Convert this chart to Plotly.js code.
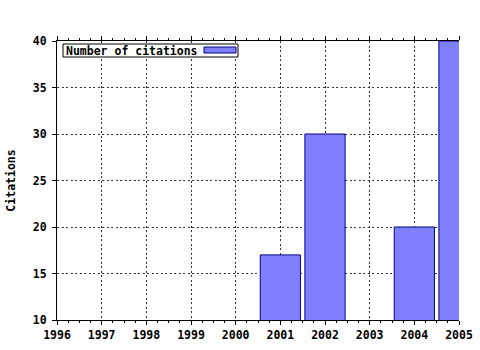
<!DOCTYPE html>
<html>
<head>
<meta charset="utf-8">
<script src="https://cdn.plot.ly/plotly-3.0.1.min.js"></script>
<style>html,body{margin:0;padding:0;background:#fff;}#chart{width:480px;height:350px;}</style>
</head>
<body>
<div id="chart"></div>
<script>
const years = [2001, 2002, 2004, 2005];
const citations = [17, 30, 20, 40];
const seriesName = "Number of citations";
const yTitle = "Citations";
const xTickVals = [1996, 1997, 1998, 1999, 2000, 2001, 2002, 2003, 2004, 2005];

const fillColor = "#8080ff";
const edgeColor = "#000080";
const font = {family: "DejaVu Sans Mono, monospace", size: 11.5, color: "#000", weight: "bold"};

const trace = {
  type: "bar",
  x: years,
  y: citations,
  name: seriesName,
  width: 0.9,
  marker: {color: fillColor, line: {color: edgeColor, width: 1}},
  showlegend: false,
  cliponaxis: true
};

const px = v => (v - 57) / 402;
const py = v => (320 - v) / 279;

const layout = {
  width: 480, height: 350,
  margin: {l: 57, r: 21, t: 41, b: 30, pad: 0},
  paper_bgcolor: "#fff", plot_bgcolor: "#fff",
  font: font,
  bargap: 0.1,
  xaxis: {
    range: [1996, 2005],
    tickvals: xTickVals,
    ticktext: xTickVals.map(String),
    showline: true, linecolor: "#000", linewidth: 1,
    mirror: "ticks",
    ticks: "outside", ticklen: 4, tickcolor: "#000", tickwidth: 1,
    minor: {ticks: "outside", ticklen: 2, dtick: 0.25, tickcolor: "#000", showgrid: false},
    showgrid: true, gridcolor: "#333", griddash: "2px,2.5px", gridwidth: 1,
    zeroline: false,
    tickfont: font,
    fixedrange: true
  },
  yaxis: {
    range: [10, 40],
    dtick: 5,
    showline: true, linecolor: "#000", linewidth: 1,
    ticks: "outside", ticklen: 4, tickcolor: "#000",
    showgrid: true, gridcolor: "#333", griddash: "2px,2.5px", gridwidth: 1,
    zeroline: false,
    tickfont: font,
    ticklabelstandoff: 3,
    title: {text: yTitle, font: font, standoff: 14},
    automargin: false,
    fixedrange: true
  },
  shapes: [
    {type: "rect", xref: "paper", yref: "paper", x0: px(63), x1: px(238), y0: py(57), y1: py(44),
     fillcolor: "#fff", line: {color: "#000", width: 1}, layer: "above"},
    {type: "rect", xref: "paper", yref: "paper", x0: px(204), x1: px(236), y0: py(53), y1: py(47),
     fillcolor: fillColor, line: {color: edgeColor, width: 1}, layer: "above"}
  ],
  annotations: [
    {xref: "paper", yref: "paper", x: px(64), y: py(50.5), xanchor: "left", yanchor: "middle",
     text: seriesName, showarrow: false, font: font}
  ]
};

Plotly.newPlot("chart", [trace], layout, {displayModeBar: false, staticPlot: true});
</script>
</body>
</html>
